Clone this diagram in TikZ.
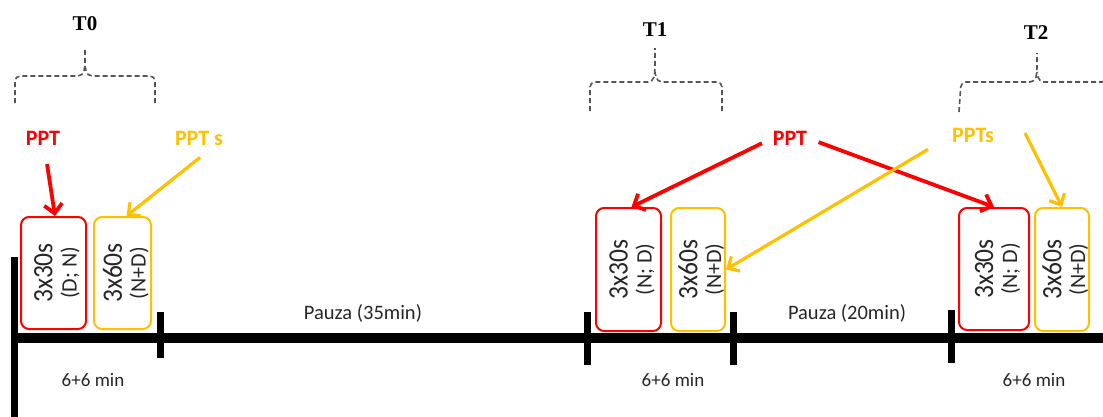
\documentclass[tikz,border=0pt]{standalone}
\usepackage{fontspec}
\setmainfont{Carlito}
\newfontfamily\tfont{Liberation Serif}
\usetikzlibrary{arrows.meta,calc}

\definecolor{pptred}{HTML}{FF0000}
\definecolor{pptgold}{HTML}{FFC000}
\definecolor{txt}{HTML}{262626}
\definecolor{bracegray}{HTML}{555555}

\begin{document}
\begin{tikzpicture}[x=1pt,y=-1pt,
  sess/.style={rounded corners=8pt, line width=2pt, inner sep=0pt},
  redbox/.style={sess, draw=pptred},
  goldbox/.style={sess, draw=pptgold},
  mainline/.style={font=\fontsize{25.5}{25.5}\selectfont, text=txt, rotate=90, yscale=1.1, inner sep=0pt},
  subline/.style={font=\fontsize{22}{22}\selectfont, text=txt, rotate=90, inner sep=0pt},
  tlabel/.style={font=\tfont\bfseries\fontsize{21}{21}\selectfont, inner sep=0pt},
  pptlabel/.style={font=\bfseries\fontsize{22}{22}\selectfont, inner sep=0pt},
  plain/.style={font=\fontsize{20.5}{20.5}\selectfont, text=txt, inner sep=0pt},
  small/.style={font=\fontsize{19}{19}\selectfont, text=txt, inner sep=0pt},
  redarrow/.style={draw=pptred, line width=3.8pt, -{Straight Barb[length=9pt,width=18pt]}},
  goldarrow/.style={draw=pptgold, line width=3.2pt, -{Straight Barb[length=9pt,width=17pt]}},
  brace/.style={draw=bracegray, line width=1.6pt, dash pattern=on 5pt off 3pt, rounded corners=5pt},
  axisline/.style={line width=7pt},
  timeline/.style={line width=10pt},
  tickmark/.style={line width=7pt}
]
\useasboundingbox (0,0) rectangle (1103,416);
\clip (0,0) rectangle (1103,416);

% time axis
\coordinate (origin) at (14,338);
\coordinate (axtop) at (14,257);
\coordinate (axbot) at (14,420);
\coordinate (tlend) at (1110,338);
\draw[axisline] (axtop) -- (axbot);
\draw[timeline] (origin) -- (tlend);

% tick marks
\foreach \x/\a/\b in {160/312/358, 587/312/365, 733/312/365, 951/310/363}
  \draw[tickmark] (\x,\a) -- (\x,\b);

% session boxes
\node[redbox,  minimum width=65, minimum height=112] (r0) at (53.5,273) {};
\node[goldbox, minimum width=57, minimum height=112] (y0) at (122.5,273) {};
\node[redbox,  minimum width=65, minimum height=123] (r1) at (628.5,269.5) {};
\node[goldbox, minimum width=54, minimum height=123] (y1) at (698,269.5) {};
\node[redbox,  minimum width=70, minimum height=122] (r2) at (994,269) {};
\node[goldbox, minimum width=54, minimum height=123] (y2) at (1062,269.5) {};

% box texts
\foreach \b/\m/\s in {r0/3x30s/(D; N), y0/3x60s/(N+D), r1/3x30s/(N; D),
                      y1/3x60s/(N+D), r2/3x30s/(N; D), y2/3x60s/(N+D)} {
  \node[mainline] (\b m) at ([xshift=-10pt]\b.center) {\m};
  \node[subline]  (\b s) at ([xshift=16.5pt]\b.center) {\s};
}

% time point labels
\node[tlabel] (t0) at (85,24) {T0};
\node[tlabel] (t1) at (655,30) {T1};
\node[tlabel] (t2) at (1036,33) {T2};

% dashed braces
\draw[brace] (15,103) -- (15,76) -- (83,76) -- (85,66) -- (85,47);
\draw[brace] (155,103) -- (155,76) -- (87,76) -- (85,66);
\draw[brace] (590,111) -- (590,82) -- (653,82) -- (655,72) -- (655,48);
\draw[brace] (722,111) -- (722,82) -- (657,82) -- (655,72);
\draw[brace] (959,112) -- (961,82) -- (1035,82) -- (1037,72) -- (1037,53);
\draw[brace] (1120,82) -- (1039,82) -- (1037,72);

% stimulus labels
\node[pptlabel, text=pptred]  (ppt0)  at (43,138)  {PPT};
\node[pptlabel, text=pptgold] (ppts0) at (199,138) {PPT s};
\node[pptlabel, text=pptred]  (ppt1)  at (790,138) {PPT};
\node[pptlabel, text=pptgold] (ppts2) at (973,135) {PPTs};

% arrows to the sessions
\draw[redarrow, shorten <=19pt] (ppt0) -- ([xshift=1.5pt]r0.north);
\draw[goldarrow] ($(ppts0.south)+(1,12)$) -- ([xshift=4pt]y0.north);
\draw[redarrow, shorten <=12pt] (ppt1.west) -- ([xshift=3pt]r1.north);
\draw[redarrow, shorten <=12pt] (ppt1.east) -- (r2.north);
\draw[goldarrow, shorten <=28pt] (ppts2.west) -- (y1.east);
\draw[goldarrow] ([xshift=31pt,yshift=2pt]ppts2.east) -- (y2.north);

% pauses and durations
\node[plain] (p1) at (363,313) {Pauza (35min)};
\node[plain] (p2) at (847,313) {Pauza (20min)};
\node[small] (d0) at (93,380)   {6+6 min};
\node[small] (d1) at (673,380)  {6+6 min};
\node[small] (d2) at (1034,380) {6+6 min};
\end{tikzpicture}
\end{document}
